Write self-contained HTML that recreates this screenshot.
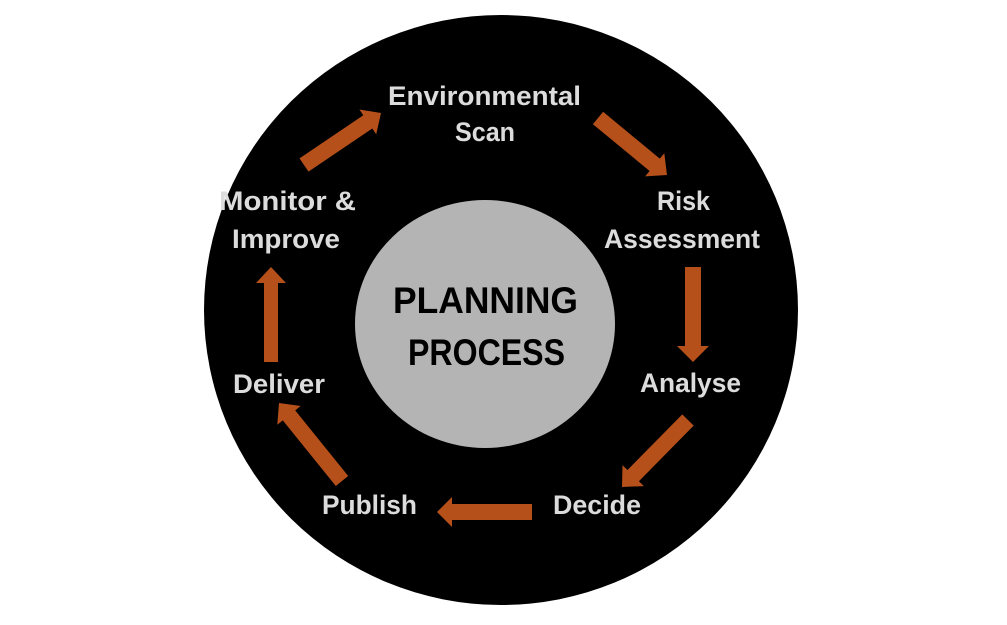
<!DOCTYPE html>
<html><head><meta charset="utf-8"><style>html,body{margin:0;padding:0;background:#fff}svg{display:block}</style></head>
<body>
<svg width="1007" height="625" viewBox="0 0 1007 625" xmlns="http://www.w3.org/2000/svg">
<ellipse cx="501" cy="310" rx="297" ry="295" fill="#000"/>
<ellipse cx="485" cy="324" rx="130" ry="124" fill="#b4b4b4"/>
<g fill="#b5501b">
<polygon points="308.5,171.6 372.3,128.5 376.2,134.3 381,113 359.4,109.5 363.3,115.3 299.5,158.4"/>
<polygon points="592.9,124.2 649.6,171 645.1,176.4 667,175 664.3,153.2 659.8,158.6 603.1,111.8"/>
<polygon points="685,267 701,267 701,346 709,346 693,362 677,346 685,346"/>
<polygon points="693.7,425.6 638.9,481.2 643.9,486.1 622,487 622.5,465.1 627.5,470 682.3,414.4"/>
<polygon points="532,504 532,520 452,520 452,527 437,512 452,497 452,504"/>
<polygon points="348.2,476 295.2,410.4 300.7,406 279,403 277.3,424.8 282.8,420.4 335.8,486"/>
<polygon points="264,362 278,362 278,283 286,283 271,267 256,283 264,283"/>
</g>
<g font-family="Liberation Sans, sans-serif" font-weight="bold" font-size="27" fill="#dcdcdc">
<text x="388" y="105" textLength="193" lengthAdjust="spacingAndGlyphs">Environmental</text>
<text x="455" y="141" textLength="60" lengthAdjust="spacingAndGlyphs">Scan</text>
<text x="657" y="210" textLength="53" lengthAdjust="spacingAndGlyphs">Risk</text>
<text x="604" y="248" textLength="156" lengthAdjust="spacingAndGlyphs">Assessment</text>
<text x="219" y="210" textLength="137" lengthAdjust="spacingAndGlyphs">Monitor &amp;</text>
<text x="232" y="248" textLength="108" lengthAdjust="spacingAndGlyphs">Improve</text>
<text x="233" y="393" textLength="92" lengthAdjust="spacingAndGlyphs">Deliver</text>
<text x="640" y="392" textLength="101" lengthAdjust="spacingAndGlyphs">Analyse</text>
<text x="322" y="514" textLength="95" lengthAdjust="spacingAndGlyphs">Publish</text>
<text x="553" y="514" textLength="88" lengthAdjust="spacingAndGlyphs">Decide</text>
</g>
<g font-family="Liberation Sans, sans-serif" font-weight="bold" font-size="37" fill="#000">
<text x="393" y="313" textLength="185" lengthAdjust="spacingAndGlyphs">PLANNING</text>
<text x="408" y="365" textLength="157" lengthAdjust="spacingAndGlyphs">PROCESS</text>
</g>
</svg>
</body></html>
